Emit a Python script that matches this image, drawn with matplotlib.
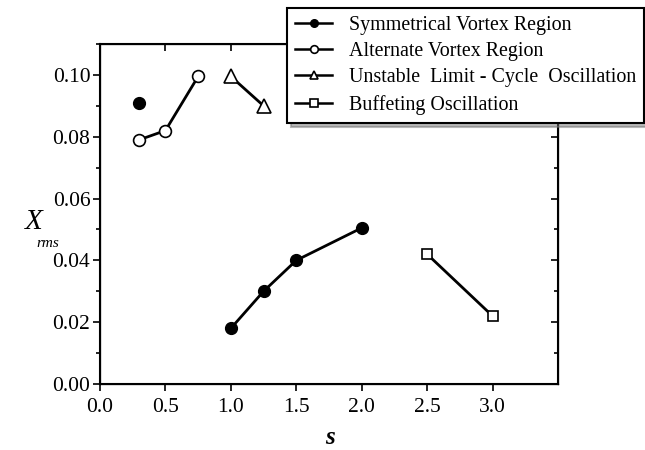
import numpy as np
import matplotlib
matplotlib.use("Agg")
import matplotlib.pyplot as plt
from matplotlib.ticker import MultipleLocator

plt.rcParams['font.family'] = ['Liberation Serif', 'DejaVu Serif']

# Data
sym_s = [0.3, np.nan, 1.0, 1.25, 1.5, 2.0]
sym_x = [0.091, np.nan, 0.018, 0.030, 0.040, 0.0505]
alt_s = [0.3, 0.5, 0.75]
alt_x = [0.079, 0.082, 0.0995]
ulc_s = [1.0, 1.25]
ulc_x = [0.0995, 0.090]
buf_s = [2.5, 3.0]
buf_x = [0.042, 0.022]
labels = ["Symmetrical Vortex Region", "Alternate Vortex Region",
          "Unstable  Limit - Cycle  Oscillation", "Buffeting Oscillation"]
xticks = [0.0, 0.5, 1.0, 1.5, 2.0, 2.5, 3.0]
yticks = [0.0, 0.02, 0.04, 0.06, 0.08, 0.10]

fig = plt.figure(figsize=(6.45, 4.5), dpi=100)
ax = fig.add_axes([100/645, 1-384/450, 458/645, 340/450])

lw = 2
ms = 8.5
h1, = ax.plot(sym_s, sym_x, '-o', color='black', lw=lw, ms=ms, mfc='black', mec='black', clip_on=False)
h2, = ax.plot(alt_s, alt_x, '-o', color='black', lw=lw, ms=ms, mfc='white', mec='black', mew=1.2, clip_on=False)
h3, = ax.plot(ulc_s, ulc_x, '-^', color='black', lw=lw, ms=ms+1, mfc='white', mec='black', mew=1.2, clip_on=False)
h4, = ax.plot(buf_s, buf_x, '-s', color='black', lw=lw, ms=ms-1, mfc='white', mec='black', mew=1.2, clip_on=False)

ax.set_xlim(0, 3.5)
ax.set_ylim(0, 0.11)
ax.set_xticks(xticks)
ax.set_xticklabels([f"{v:.1f}" for v in xticks])
ax.set_yticks(yticks)
ax.set_yticklabels([f"{v:.2f}" for v in yticks])
ax.yaxis.set_minor_locator(MultipleLocator(0.01))
ax.tick_params(axis='both', which='major', labelsize=15.5, length=5, width=1.2, direction='out')
ax.tick_params(axis='x', pad=5)
ax.tick_params(axis='y', pad=2)
ax.tick_params(axis='y', which='minor', length=3, width=1.2, direction='out')
for sp in ax.spines.values():
    sp.set_linewidth(1.5)

# inward ticks on right and top
axr = ax.twinx()
axr.set_ylim(0, 0.11)
axr.set_yticks(yticks)
axr.yaxis.set_minor_locator(MultipleLocator(0.01))
axr.tick_params(axis='y', which='major', direction='in', length=5, width=1.2, labelright=False)
axr.tick_params(axis='y', which='minor', direction='in', length=3, width=1.2)
axt = ax.twiny()
axt.set_xlim(0, 3.5)
axt.set_xticks(xticks)
axt.tick_params(axis='x', direction='in', length=5, width=1.2, labeltop=False)

fig.text(330/645, 1-437/450, "s", fontsize=18, style='italic', weight='bold', ha='center', va='center')
fig.text(25/645, 1-222/450, "X", fontsize=21, style='italic', ha='left', va='center')
fig.text(36/645, 1-243/450, "rms", fontsize=11, style='italic', ha='left', va='center')

leg = fig.legend([h1, h2, h3, h4], labels, loc='upper left', bbox_to_anchor=(287/645, 1-8/450),
                 frameon=True, fancybox=False, shadow={'color': '0.45', 'ox': 3, 'oy': -3}, fontsize=14.4,
                 handlelength=1.85, borderpad=0.4, labelspacing=0.36, handletextpad=0.85, borderaxespad=0)
leg.get_frame().set_edgecolor('black')
leg.get_frame().set_linewidth(1.5)
leg.get_frame().set_alpha(1)
for h in leg.legend_handles:
    h.set_markersize(5.5)
    h.set_linewidth(1.8)
leg.set_zorder(10)

fig.savefig("out.png", dpi=100)
